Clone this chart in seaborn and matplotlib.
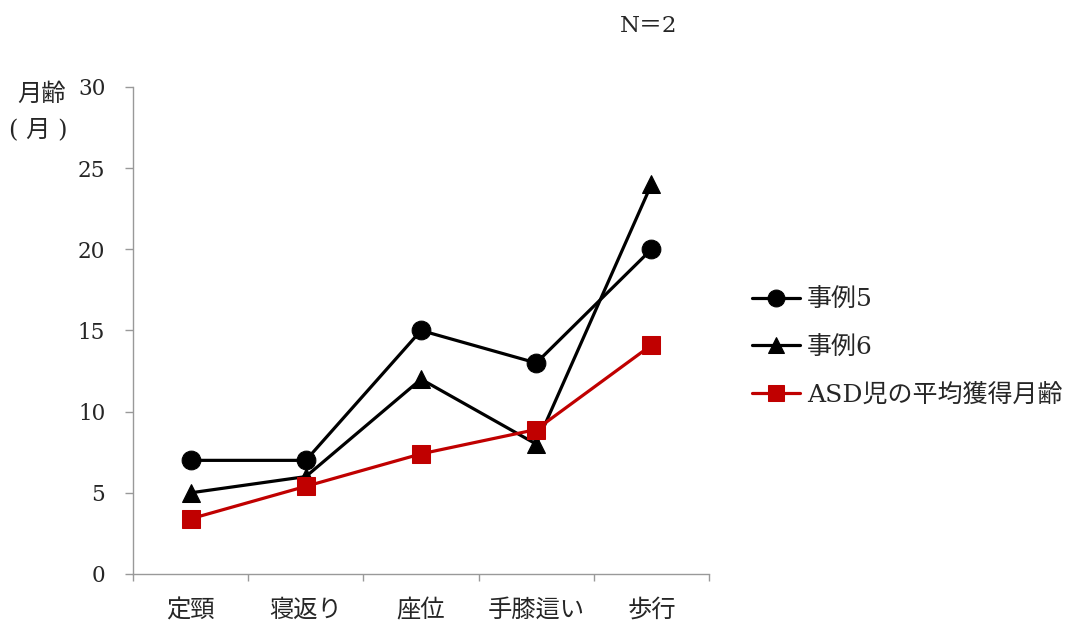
import matplotlib
matplotlib.use("Agg")
import matplotlib.pyplot as plt
import seaborn as sns
import pandas as pd
from matplotlib.ticker import FixedLocator

categories = ["定頸", "寝返り", "座位", "手膝這い", "歩行"]
case5 = [7, 7, 15, 13, 20]
case6 = [5, 6, 12, 8, 24]
asd_mean = [3.4, 5.4, 7.4, 8.9, 14.1]
series_names = ["事例5", "事例6", "ASD児の平均獲得月齢"]
y_ticks = [0, 5, 10, 15, 20, 25, 30]

sns.set_theme(style="white")
FONTS = ["DejaVu Serif", "Noto Sans CJK JP", "DejaVu Sans"]
plt.rcParams["font.family"] = FONTS

df = pd.DataFrame({
    "pos": list(range(len(categories))) * 3,
    "value": case5 + case6 + asd_mean,
    "series": [series_names[0]] * 5 + [series_names[1]] * 5 + [series_names[2]] * 5,
})

fig = plt.figure(figsize=(10.86, 6.28), dpi=100)
ax = fig.add_axes([0.1225, 0.086, 0.5304, 0.7755])

styles = {
    series_names[0]: dict(color="black", marker="o", markersize=13.5),
    series_names[1]: dict(color="black", marker="^", markersize=13.5),
    series_names[2]: dict(color="#C00000", marker="s", markersize=12.5),
}
for name in series_names:
    sub = df[df["series"] == name]
    st = styles[name]
    sns.lineplot(data=sub, x="pos", y="value", ax=ax, color=st["color"],
                 marker=st["marker"], markersize=st["markersize"],
                 markeredgecolor=st["color"], markerfacecolor=st["color"],
                 linewidth=2.3, label=name)

ax.set_xlim(-0.5, len(categories) - 0.5)
ax.set_ylim(0, 30)
ax.set_xticks(range(len(categories)))
ax.set_xticklabels(categories, fontsize=17.5)
ax.xaxis.set_minor_locator(FixedLocator([i - 0.5 for i in range(len(categories) + 1)]))
ax.tick_params(axis="x", which="major", length=0, pad=18)
ax.tick_params(axis="x", which="minor", length=5, width=1, color="#999999", direction="out", bottom=True)
ax.set_yticks(y_ticks)
ax.set_yticklabels([str(v) for v in y_ticks], fontsize=15.5)
ax.tick_params(axis="y", length=6, width=1, color="#999999", direction="out", left=True, pad=14)
ax.set_xlabel("")
ax.set_ylabel("")
for side in ["top", "right"]:
    ax.spines[side].set_visible(False)
for side in ["left", "bottom"]:
    ax.spines[side].set_color("#999999")
    ax.spines[side].set_linewidth(1)

leg = ax.legend(loc="center left", bbox_to_anchor=(1.035, 0.465), frameon=False,
                fontsize=18, handlelength=1.95, handletextpad=0.25, labelspacing=0.98,
                markerscale=0.9)

fig.text(0.016, 0.849, "月齢", fontsize=17.5, ha="left", va="center")
fig.text(0.008, 0.793, "( 月 )", fontsize=17.5, ha="left", va="center")
fig.text(0.597, 0.958, "N＝2", fontsize=16.5, ha="center", va="center")

fig.savefig("out.png", dpi=100)
